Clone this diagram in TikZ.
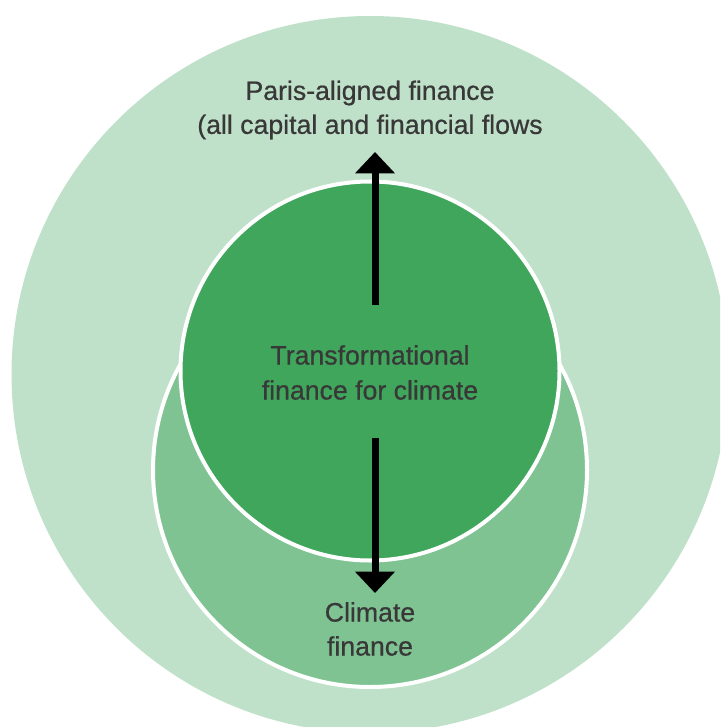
\documentclass[tikz,border=0pt]{standalone}
\usepackage{fontspec}
\setmainfont{Liberation Sans}
\newfontfamily\lblfont{Liberation Sans}[FakeBold=0.6]
\usetikzlibrary{arrows.meta}
\definecolor{outergreen}{HTML}{C0E1C9}
\definecolor{midgreen}{HTML}{7FC393}
\definecolor{innergreen}{HTML}{3FA65B}
\definecolor{labelgray}{HTML}{383838}
\tikzset{
  ring/.style={circle, draw=white, line width=3pt, inner sep=0pt},
  lbl/.style={text=labelgray, align=center, inner sep=0pt},
  flow/.style={line width=5.25pt, -{Triangle[width=29pt,length=16pt]}}
}

\begin{document}
\begin{tikzpicture}[x=0.75pt,y=-0.75pt]
    \useasboundingbox (0,0) rectangle (720,727);
    \clip (0,0) rectangle (720,727);
    \node[circle, fill=outergreen, inner sep=0pt, minimum size=537.75pt] (paris) at (370,374.5) {};
    \node[ring, fill=midgreen, minimum size=325.5pt] (climate) at (370,470) {};
    \node[ring, fill=innergreen, minimum size=284.25pt] (transform) at (370,371) {};
    \node[lbl, font=\lblfont\fontsize{20}{25.5}\selectfont] (parislbl) at (370,110)
        {Paris-aligned finance\\(all capital and financial flows};
    \node[lbl, font=\lblfont\fontsize{20}{26.25}\selectfont] (transformlbl) at (370,372.5)
        {Transformational\\finance for climate};
    \node[lbl, font=\lblfont\fontsize{20}{25.5}\selectfont] (climatelbl) at (370,629)
        {Climate\\finance};
    \coordinate (upfoot) at (375,305);
    \coordinate (uptip) at (375,152);
    \coordinate (downfoot) at (375,438);
    \coordinate (downtip) at (375,593);
    \draw[flow] (upfoot) -- (uptip);
    \draw[flow] (downfoot) -- (downtip);
\end{tikzpicture}
\end{document}
